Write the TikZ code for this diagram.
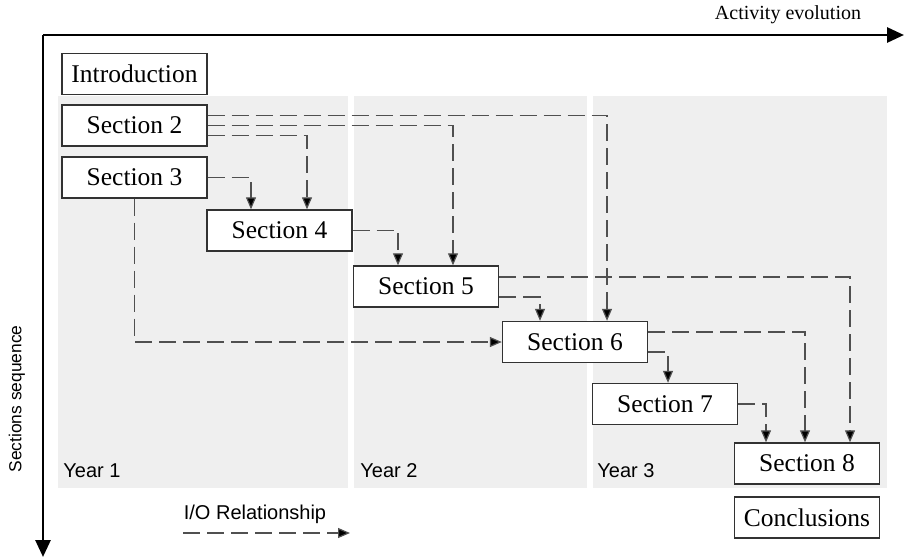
\documentclass[tikz,border=0pt]{standalone}
\usepackage{fontspec}
\setmainfont{Liberation Serif}
\setsansfont{Liberation Sans}
\usetikzlibrary{arrows.meta}
\definecolor{bandgray}{RGB}{239,239,239}
\definecolor{linegray}{RGB}{80,80,80}
\definecolor{boxline}{RGB}{50,50,50}
\tikzset{
  secbox/.style={draw=boxline, line width=0.7pt, fill=white, rectangle,
    minimum width=72.5pt, minimum height=20.5pt, inner sep=0pt,
    font=\fontsize{12.75}{14}\selectfont},
  io/.style={draw=linegray, line width=0.6pt, dash pattern=on 8.5pt off 3.5pt,
    -{Triangle[length=6pt,width=5pt,fill=black]}},
  axis/.style={line width=1.4pt, -{Triangle[length=8.5pt,width=7.5pt]}},
  band/.style={fill=bandgray, draw=none},
  yearlbl/.style={font=\sffamily\fontsize{10}{12}\selectfont, anchor=west, inner sep=0pt},
}
\begin{document}
\begin{tikzpicture}[x=0.5pt,y=-0.5pt]
\useasboundingbox (0,0) rectangle (904,557);
% bands
\fill[band] (58,96) rectangle (348,488);
\fill[band] (354,96) rectangle (587,488);
\fill[band] (593,96) rectangle (887,488);
\node[yearlbl] (y1) at (63,471) {Year 1};
\node[yearlbl] (y2) at (360,471) {Year 2};
\node[yearlbl] (y3) at (597,471) {Year 3};
% axes
\coordinate (origin) at (43,35);
\coordinate (xend) at (904,35);
\coordinate (yend) at (43,557);
\draw[axis] (origin) -- (xend);
\draw[axis] (origin) -- (yend);
\node[font=\fontsize{10}{12}\selectfont] (actlbl) at (788,15) {Activity evolution};
\node[font=\sffamily\fontsize{8.7}{10}\selectfont, rotate=90] (seqlbl) at (17,399) {Sections sequence};
% boxes
\node[secbox] (intro) at (134.5,74) {Introduction};
\node[secbox] (s2) at (134.5,125.5) {Section 2};
\node[secbox] (s3) at (134.5,177.5) {Section 3};
\node[secbox] (s4) at (279.5,230.5) {Section 4};
\node[secbox] (s5) at (426,286.5) {Section 5};
\node[secbox] (s6) at (575,342) {Section 6};
\node[secbox] (s7) at (665,404) {Section 7};
\node[secbox] (s8) at (807,463.5) {Section 8};
\node[secbox] (concl) at (807,517.5) {Conclusions};
% connectors
\draw[io] ([yshift=5pt]s2.east) -| ([xshift=16pt]s6.north);
\draw[io] (s2.east) -| ([xshift=13.5pt]s5.north);
\draw[io] ([yshift=-5pt]s2.east) -| ([xshift=13.75pt]s4.north);
\draw[io] (s3.east) -| ([xshift=-14.25pt]s4.north);
\draw[io] (s3.south) |- (s6.west);
\draw[io] (s4.east) -| ([xshift=-14pt]s5.north);
\draw[io] ([yshift=4.75pt]s5.east) -| ([xshift=21.5pt]s8.north);
\draw[io] ([yshift=-5.25pt]s5.east) -| ([xshift=-17.5pt]s6.north);
\draw[io] ([yshift=5pt]s6.east) -| ([xshift=-1pt]s8.north);
\draw[io] ([yshift=-5pt]s6.east) -| ([xshift=1.5pt]s7.north);
\draw[io] (s7.east) -| ([xshift=-20.5pt]s8.north);
% legend
\node[font=\sffamily\fontsize{10}{12}\selectfont] (lgtxt) at (255,514) {I/O Relationship};
\coordinate (lgA) at (183,533);
\coordinate (lgB) at (350,533);
\draw[io] (lgA) -- (lgB);
\end{tikzpicture}
\end{document}
